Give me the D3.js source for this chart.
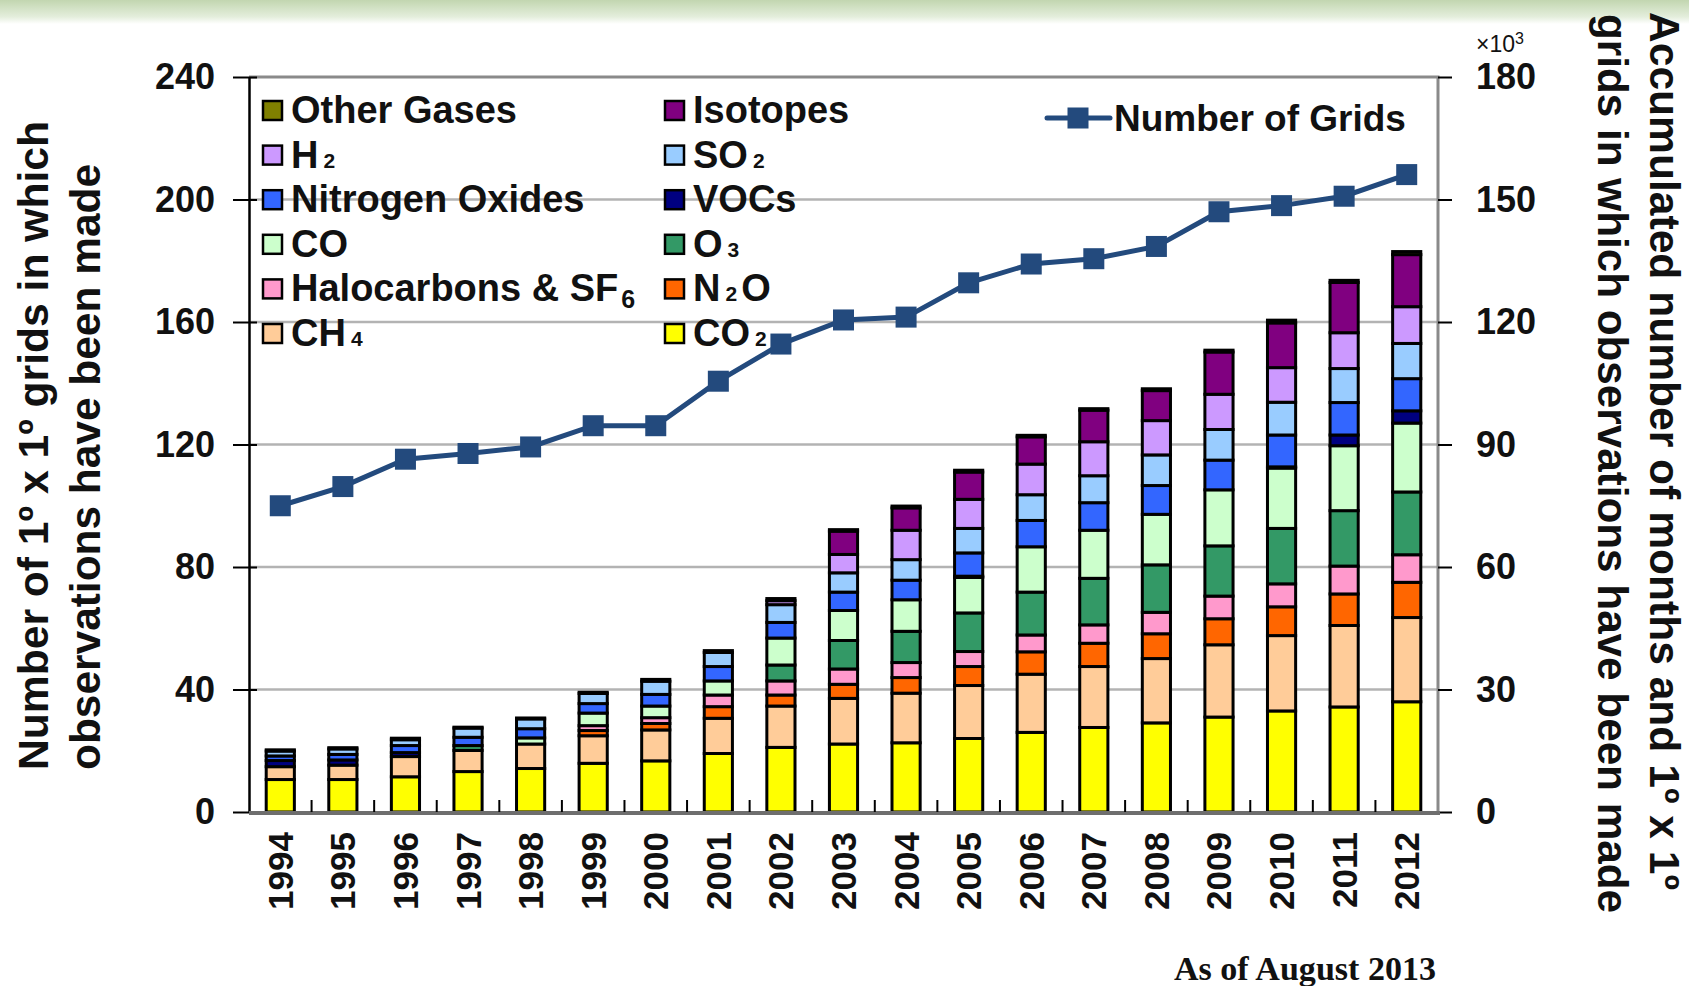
<!DOCTYPE html>
<html>
<head>
<meta charset="utf-8">
<script src="https://cdn.jsdelivr.net/npm/d3@7"></script>
<style>
  html, body { margin: 0; padding: 0; background: #fff; }
  svg { display: block; }
</style>
</head>
<body>
<svg id="chart" width="1689" height="986" font-family='"Liberation Sans", Arial, sans-serif'></svg>
<script>
// ---------------- DATA ----------------
const years = ["1994","1995","1996","1997","1998","1999","2000","2001","2002","2003","2004","2005","2006","2007","2008","2009","2010","2011","2012"];

const co2       = [10.6,10.6,11.5,13.2,14.2,15.9,16.7,19.1,21.1,22.2,22.6,24.0,26.0,27.6,29.1,31.0,33.0,34.3,36.0];
const ch4       = [4.2,4.7,6.6,6.9,8.0,9.0,10.1,11.5,13.5,14.9,16.2,17.3,19.0,19.9,21.0,23.6,24.6,26.6,27.5];
const n2o       = [0,0,0,0,0,1.7,2.1,3.8,3.6,4.6,5.1,6.2,7.3,7.6,8.1,8.5,9.4,10.3,11.5];
const halo      = [0,0,0,0,0,1.6,1.9,3.8,4.6,5.0,4.9,4.9,5.5,6.0,7.0,7.4,7.5,9.1,9.0];
const o3        = [0,0,0,1.6,0,0,0,0,5.2,9.3,10.2,12.6,14.0,15.2,15.5,16.4,18.1,18.1,20.5];
const co        = [0,0,0,0,2.0,4.1,3.8,4.6,8.8,9.8,10.3,11.6,14.8,15.7,16.5,18.3,19.7,21.2,22.5];
const vocs      = [2.0,1.7,1.3,0,0,0,0,0,0,0,0,0.4,0,0,0,0,0.4,3.5,4.0];
const nox       = [1.5,1.8,2.3,2.7,3.0,3.1,3.8,4.7,5.1,6.0,6.4,7.6,8.6,9.0,9.4,9.7,10.4,10.6,10.5];
const so2       = [1.6,1.8,1.9,3.0,3.2,3.3,4.3,4.6,5.8,6.3,6.7,8.0,8.4,8.8,10.0,10.0,10.7,11.1,11.5];
const h2        = [0,0,0,0,0,0,0,0,1.3,6.0,9.6,9.5,10.0,11.1,11.2,11.5,11.3,11.7,12.0];
const isotopes  = [0,0,0,0,0,0,0,0,0,7.6,7.3,8.9,8.9,10.3,9.8,13.8,14.6,16.4,17.0];
const other     = [0.4,0.4,0.5,0.3,0.3,0.4,0.6,0.6,0.7,0.5,0.6,0.6,0.5,0.5,0.6,0.6,0.9,0.7,1.0];

// Number of grids (x10^3), right axis
const grids = [75.0,79.7,86.4,87.8,89.4,94.6,94.6,105.5,114.6,120.5,121.2,129.6,134.2,135.5,138.5,147.0,148.5,150.8,156.1];

// series keys, bottom to top
const seriesKeys   = ["CO2","CH4","N2O","Halo","O3","CO","VOCs","NOx","SO2","H2","Isotopes","Other"];
const seriesValues = [co2, ch4, n2o, halo, o3, co, vocs, nox, so2, h2, isotopes, other];
const seriesLabels = ["CO_2","CH_4","N_2O","Halocarbons & SF__6","O_3","CO","VOCs","Nitrogen Oxides","SO_2","H_2","Isotopes","Other Gases"];
const seriesColors = ["#FFFF00","#FFCC99","#FF6600","#FF99CC","#339966","#CCFFCC","#000080","#3366FF","#99CCFF","#CC99FF","#800080","#808000"];

const leftTicks  = [0,40,80,120,160,200,240];
const rightTicks = [0,30,60,90,120,150,180];

// ---------------- LAYOUT ----------------
const SANS = '"Liberation Sans", Arial, sans-serif';
const SERIF = '"Liberation Serif", "Times New Roman", serif';
const svg = d3.select("#chart");
const W = 1689, H = 986;
const plot = {left: 249, right: 1438, top: 77, bottom: 812};

// top banner
const defs = svg.append("defs");
const grad = defs.append("linearGradient").attr("id","banner").attr("x1",0).attr("y1",0).attr("x2",0).attr("y2",1);
grad.append("stop").attr("offset","0%").attr("stop-color","#c2d6b0");
grad.append("stop").attr("offset","70%").attr("stop-color","#e4eedc");
grad.append("stop").attr("offset","100%").attr("stop-color","#ffffff");
svg.append("rect").attr("x",0).attr("y",0).attr("width",W).attr("height",24).attr("fill","url(#banner)");

const x = d3.scaleBand().domain(years).range([plot.left, plot.right]).paddingInner(0).paddingOuter(0);
const yL = d3.scaleLinear().domain([0,240]).range([plot.bottom, plot.top]);
const yR = d3.scaleLinear().domain([0,180]).range([plot.bottom, plot.top]);

// gridlines
svg.append("g").selectAll("line").data(leftTicks.filter(t => t > 0 && t < 240)).join("line")
  .attr("x1", plot.left).attr("x2", plot.right)
  .attr("y1", d => yL(d)).attr("y2", d => yL(d))
  .attr("stroke","#b3b3b3").attr("stroke-width",2.5);

// plot frame top & right (gray)
svg.append("path")
  .attr("d", `M${plot.left},${plot.top}H${plot.right}V${plot.bottom}`)
  .attr("fill","none").attr("stroke","#8a8a8a").attr("stroke-width",3);

// stacked bars
const rows = years.map((yr, i) => {
  const r = {year: yr};
  seriesKeys.forEach((k, j) => r[k] = seriesValues[j][i]);
  return r;
});
const stacked = d3.stack().keys(seriesKeys)(rows);
const barW = x.bandwidth() * 0.45;

const gBars = svg.append("g");
stacked.forEach((layer, j) => {
  gBars.append("g").selectAll("rect")
    .data(layer.filter(d => d[1] - d[0] > 0))
    .join("rect")
    .attr("x", d => x(d.data.year) + (x.bandwidth() - barW) / 2)
    .attr("width", barW)
    .attr("y", d => yL(d[1]))
    .attr("height", d => yL(d[0]) - yL(d[1]))
    .attr("fill", seriesColors[j])
    .attr("stroke","#000").attr("stroke-width",3);
});

// left axis
const axL = d3.axisLeft(yL).tickValues(leftTicks).tickSizeInner(15).tickSizeOuter(0).tickPadding(18);
const gL = svg.append("g").attr("transform",`translate(${plot.left},0)`).call(axL);
gL.attr("font-family", null).attr("font-size", null);
gL.select(".domain").attr("stroke","#000").attr("stroke-width",2.5);
gL.selectAll(".tick line").attr("stroke","#000").attr("stroke-width",2).attr("x2",-16).attr("x1",8);
gL.selectAll(".tick text").attr("font-size",36).attr("font-weight","bold").attr("fill","#111")
  .style("font-family", SANS).attr("x",-34);

// right axis
const axR = d3.axisRight(yR).tickValues(rightTicks).tickSizeInner(14).tickSizeOuter(0).tickPadding(24);
const gR = svg.append("g").attr("transform",`translate(${plot.right},0)`).call(axR);
gR.attr("font-family", null).attr("font-size", null);
gR.select(".domain").remove();
gR.selectAll(".tick line").attr("stroke","#000").attr("stroke-width",2);
gR.selectAll(".tick text").attr("font-size",36).attr("font-weight","bold").attr("fill","#111")
  .style("font-family", SANS).attr("x",38);

// x axis
const gX = svg.append("g").attr("transform",`translate(0,${plot.bottom})`);
gX.append("line").attr("x1",plot.left).attr("x2",plot.right+2).attr("y1",1).attr("y2",1)
  .attr("stroke","#6e6e6e").attr("stroke-width",4);
gX.selectAll(".btick").data(years.slice(1)).join("line").attr("class","btick")
  .attr("x1", d => x(d)).attr("x2", d => x(d)).attr("y1",0).attr("y2",-12)
  .attr("stroke","#000").attr("stroke-width",2);
gX.selectAll(".ylab").data(years).join("text").attr("class","ylab")
  .attr("transform", d => `translate(${x(d) + x.bandwidth()/2},${20}) rotate(-90)`)
  .attr("text-anchor","end").attr("dominant-baseline","central")
  .attr("font-size",35).attr("font-weight","bold").attr("fill","#111")
  .text(d => d);

// line: number of grids
const line = d3.line().x((d,i) => x(years[i]) + x.bandwidth()/2).y(d => yR(d));
svg.append("path").datum(grids).attr("d", line)
  .attr("fill","none").attr("stroke","#234a7d").attr("stroke-width",5);
const mk = 21;
svg.append("g").selectAll("rect").data(grids).join("rect")
  .attr("x",(d,i) => x(years[i]) + x.bandwidth()/2 - mk/2)
  .attr("y", d => yR(d) - mk/2)
  .attr("width",mk).attr("height",mk).attr("fill","#234a7d");

// ---------------- LEGEND ----------------
function richLabel(sel, label) {
  const parts = label.split(/(__?\d)/).filter(s => s.length);
  let afterSub = false;
  parts.forEach(p => {
    if (p.startsWith("__")) {
      sel.append("tspan").text(p.slice(2)).attr("font-size",25).attr("dx",3).attr("dy",7);
      afterSub = "low";
    } else if (p.startsWith("_")) {
      sel.append("tspan").text(p.slice(1)).attr("font-size",21).attr("dx",5);
      afterSub = true;
    } else {
      const t = sel.append("tspan").text(p);
      if (afterSub === "low") t.attr("dy",-7);
      if (afterSub) t.attr("dx",4);
      afterSub = false;
    }
  });
}
// legend order (top row first, left column then right)
const legendOrder = [11,10,9,8,7,6,5,4,3,2,1,0];
const legG = svg.append("g");
legendOrder.forEach((si, n) => {
  const col = n % 2, row = Math.floor(n / 2);
  const cy = 110 + row * 44.6;
  const sx = col === 0 ? 263 : 665;
  legG.append("rect").attr("x", sx).attr("y", cy - 9).attr("width",19).attr("height",19)
    .attr("fill", seriesColors[si]).attr("stroke","#000").attr("stroke-width",2.5);
  const t = legG.append("text").attr("x", sx + 28).attr("y", cy + 13)
    .attr("font-size",38).attr("font-weight","bold").attr("fill","#111");
  richLabel(t, seriesLabels[si]);
});
// line legend
legG.append("line").attr("x1",1047).attr("x2",1110).attr("y1",118).attr("y2",118)
  .attr("stroke","#234a7d").attr("stroke-width",5).attr("stroke-linecap","round");
legG.append("rect").attr("x",1078-mk/2).attr("y",118-mk/2).attr("width",mk).attr("height",mk).attr("fill","#234a7d");
legG.append("text").attr("x",1114).attr("y",131).attr("font-size",37).attr("font-weight","bold")
  .attr("fill","#111").text("Number of Grids");

// ---------------- TITLES ----------------
const tL = svg.append("g").attr("font-weight","bold").attr("font-size",42).attr("fill","#111");
tL.append("text").attr("transform","translate(33,770) rotate(-90)").attr("dominant-baseline","central")
  .attr("text-anchor","start").attr("textLength",649).attr("lengthAdjust","spacingAndGlyphs")
  .text("Number of 1º x 1º grids in which");
tL.append("text").attr("transform","translate(85,770) rotate(-90)").attr("dominant-baseline","central")
  .attr("text-anchor","start").attr("textLength",606).attr("lengthAdjust","spacingAndGlyphs")
  .text("observations have been made");

tL.append("text").attr("transform","translate(1664,12) rotate(90)").attr("dominant-baseline","central")
  .attr("text-anchor","start").attr("textLength",878).attr("lengthAdjust","spacingAndGlyphs")
  .text("Accumulated number of months and 1º x 1º");
tL.append("text").attr("transform","translate(1612,14) rotate(90)").attr("dominant-baseline","central")
  .attr("text-anchor","start").attr("textLength",899).attr("lengthAdjust","spacingAndGlyphs")
  .text("grids in which observations have been made");

// x10^3
const ex = svg.append("text").attr("x",1476).attr("y",52).attr("font-size",23).attr("fill","#111");
ex.append("tspan").text("×10");
ex.append("tspan").text("3").attr("font-size",16).attr("dy",-8);

// footnote
svg.append("text").attr("x",1174).attr("y",980)
  .style("font-family", SERIF)
  .attr("font-weight","bold").attr("font-size",33).attr("fill","#111")
  .attr("textLength",262).attr("lengthAdjust","spacingAndGlyphs")
  .text("As of August 2013");
</script>
</body>
</html>
